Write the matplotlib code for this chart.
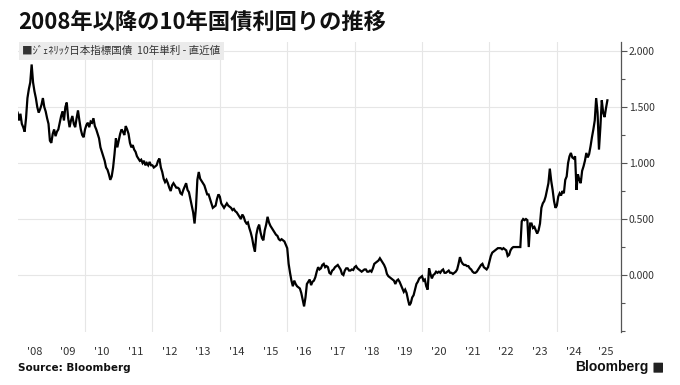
import matplotlib
matplotlib.use("Agg")
import matplotlib.pyplot as plt
from matplotlib.patches import FancyBboxPatch
import numpy as np

plt.rcParams['font.family'] = ['Noto Sans CJK JP', 'DejaVu Sans']

# semi-monthly readings of the 10y JGB yield (%), two points per month
y2008 = [1.45, 1.38, 1.44, 1.35, 1.32, 1.28, 1.40, 1.58, 1.66, 1.72, 1.88, 1.72,
         1.64, 1.58, 1.50, 1.45, 1.48, 1.52, 1.58, 1.50, 1.46, 1.40, 1.35, 1.20]
y2009 = [1.18, 1.26, 1.30, 1.24, 1.28, 1.30, 1.36, 1.42, 1.46, 1.38, 1.50, 1.54,
         1.40, 1.32, 1.38, 1.42, 1.35, 1.32, 1.40, 1.47, 1.38, 1.30, 1.25, 1.23]
y2010 = [1.30, 1.34, 1.36, 1.32, 1.37, 1.36, 1.40, 1.33, 1.30, 1.26, 1.22, 1.14,
         1.10, 1.06, 1.02, 0.96, 0.94, 0.90, 0.85, 0.88, 0.96, 1.08, 1.22, 1.14]
y2011 = [1.20, 1.26, 1.30, 1.28, 1.25, 1.33, 1.30, 1.26, 1.18, 1.14, 1.16, 1.12,
         1.10, 1.06, 1.04, 1.02, 1.03, 1.00, 1.02, 0.98, 1.00, 0.98, 1.01, 0.98]
y2012 = [0.98, 0.96, 0.97, 0.98, 1.02, 1.04, 0.96, 0.92, 0.86, 0.83, 0.85, 0.82,
         0.78, 0.75, 0.80, 0.82, 0.80, 0.78, 0.78, 0.77, 0.73, 0.72, 0.76, 0.79]
y2013 = [0.82, 0.76, 0.74, 0.68, 0.62, 0.56, 0.46, 0.60, 0.85, 0.92, 0.86, 0.84,
         0.82, 0.80, 0.76, 0.72, 0.72, 0.68, 0.64, 0.60, 0.61, 0.62, 0.68, 0.72]
y2014 = [0.70, 0.64, 0.62, 0.60, 0.62, 0.64, 0.62, 0.61, 0.60, 0.58, 0.59, 0.57,
         0.56, 0.54, 0.52, 0.50, 0.54, 0.52, 0.48, 0.46, 0.47, 0.42, 0.38, 0.33]
y2015 = [0.26, 0.21, 0.36, 0.42, 0.45, 0.38, 0.33, 0.31, 0.40, 0.45, 0.52, 0.47,
         0.44, 0.42, 0.40, 0.38, 0.36, 0.35, 0.32, 0.31, 0.32, 0.31, 0.30, 0.27]
y2016 = [0.24, 0.10, 0.02, -0.05, -0.10, -0.05, -0.08, -0.10, -0.11, -0.12, -0.16, -0.22,
         -0.28, -0.20, -0.08, -0.06, -0.04, -0.09, -0.06, -0.05, -0.02, 0.03, 0.07, 0.05]
y2017 = [0.06, 0.09, 0.10, 0.07, 0.08, 0.07, 0.02, 0.01, 0.04, 0.05, 0.07, 0.08,
         0.09, 0.07, 0.05, 0.01, 0.00, 0.04, 0.06, 0.06, 0.04, 0.04, 0.05, 0.045]
y2018 = [0.07, 0.08, 0.06, 0.05, 0.04, 0.03, 0.04, 0.05, 0.05, 0.03, 0.03, 0.04,
         0.03, 0.06, 0.10, 0.11, 0.12, 0.13, 0.15, 0.13, 0.11, 0.09, 0.06, 0.01]
y2019 = [-0.01, -0.02, -0.03, -0.04, -0.05, -0.08, -0.05, -0.04, -0.06, -0.09, -0.12, -0.15,
         -0.13, -0.16, -0.22, -0.27, -0.25, -0.20, -0.18, -0.13, -0.08, -0.06, -0.03, -0.02]
y2020 = [-0.01, -0.05, -0.04, -0.10, -0.13, 0.06, 0.01, -0.03, 0.00, 0.01, 0.03, 0.02,
         0.03, 0.02, 0.04, 0.05, 0.02, 0.02, 0.03, 0.04, 0.02, 0.02, 0.01, 0.02]
y2021 = [0.03, 0.05, 0.10, 0.16, 0.12, 0.10, 0.09, 0.09, 0.08, 0.08, 0.06, 0.05,
         0.03, 0.02, 0.02, 0.03, 0.05, 0.07, 0.09, 0.10, 0.07, 0.06, 0.05, 0.07]
y2022 = [0.12, 0.17, 0.20, 0.21, 0.22, 0.23, 0.24, 0.24, 0.24, 0.23, 0.24, 0.23,
         0.22, 0.17, 0.18, 0.22, 0.24, 0.25, 0.25, 0.25, 0.25, 0.25, 0.25, 0.48]
y2023 = [0.50, 0.49, 0.50, 0.49, 0.25, 0.46, 0.46, 0.42, 0.43, 0.40, 0.37, 0.40,
         0.46, 0.60, 0.64, 0.66, 0.70, 0.76, 0.82, 0.95, 0.84, 0.76, 0.66, 0.60]
y2024 = [0.62, 0.70, 0.73, 0.71, 0.75, 0.73, 0.85, 0.88, 1.00, 1.06, 1.09, 1.05,
         1.04, 1.06, 0.76, 0.90, 0.85, 0.82, 0.93, 0.97, 1.02, 1.09, 1.05, 1.08]
y2025 = [1.15, 1.23, 1.30, 1.38, 1.58, 1.45, 1.12, 1.32, 1.56, 1.45, 1.41, 1.49, 1.56]

years = list(range(2008, 2026))
series = [y2008, y2009, y2010, y2011, y2012, y2013, y2014, y2015, y2016,
          y2017, y2018, y2019, y2020, y2021, y2022, y2023, y2024, y2025]

year_labels = ["'08", "'09", "'10", "'11", "'12", "'13", "'14", "'15", "'16",
               "'17", "'18", "'19", "'20", "'21", "'22", "'23", "'24", "'25"]

t = []
v = []
for yr, vals in zip(years, series):
    for k, val in enumerate(vals):
        t.append(yr + k / 24)
        v.append(val)

x_end = 2025.905

fig = plt.figure(figsize=(6.8, 3.85), dpi=100)
ax = fig.add_axes([0.0259, 0.1384, 0.8874, 0.7532])

ax.plot(t, v, color='black', lw=1.6, solid_joinstyle='miter')

ax.set_xlim(2008.0, x_end)
ax.set_ylim(-0.506, 2.083)

# y axis on the right
ax.yaxis.tick_right()
ax.set_yticks([0.0, 0.5, 1.0, 1.5, 2.0])
ax.set_yticklabels(['%.3f' % y for y in [0.0, 0.5, 1.0, 1.5, 2.0]])
ax.set_yticks(np.arange(-0.5, 2.01, 0.25), minor=True)
ax.tick_params(axis='y', which='major', direction='out', length=4, width=0.8,
               color='#555555', labelsize=7.5, labelcolor='#333333', pad=1.5)
ax.tick_params(axis='y', which='minor', direction='out', length=3, width=0.8,
               color='#555555')

# x axis: grid every two years, labels centred in each year
ax.set_xticks(list(range(2010, 2025, 2)))
ax.set_xticklabels([])
label_pos = [yr + 0.5 for yr in years[:-1]] + [(2025 + x_end) / 2]
ax.set_xticks(label_pos, minor=True)
ax.set_xticklabels(year_labels, minor=True)
ax.tick_params(axis='x', which='both', length=0, labelsize=8,
               labelcolor='#333333', pad=11)

ax.grid(axis='x', which='major', color='#e6e6e6', lw=0.8)
ax.grid(axis='y', which='major', color='#e6e6e6', lw=0.8)
ax.set_axisbelow(True)

for s in ['top', 'left', 'bottom']:
    ax.spines[s].set_visible(False)
ax.spines['right'].set_color('#555555')
ax.spines['right'].set_linewidth(0.9)

ax.text(0.008, 0.985, '■ｼﾞｪﾈﾘｯｸ日本指標国債  10年単利 - 直近値',
        transform=ax.transAxes, fontsize=7.6, color='#333333', va='top', ha='left',
        bbox=dict(boxstyle='square,pad=0.35', facecolor='#ebebeb', edgecolor='none'))

fig.text(0.026, 0.943, '2008年以降の10年国債利回りの推移', fontsize=16,
         fontweight='bold', va='center', ha='left', color='#111111')
fig.text(0.026, 0.044, 'Source: Bloomberg', fontsize=7.5, fontweight='bold',
         va='center', ha='left', color='#111111', family='DejaVu Sans')
fig.text(0.953, 0.046, 'Bloomberg', fontsize=10, fontweight='bold',
         va='center', ha='right', color='#111111', family='Liberation Sans')
fig.patches.append(FancyBboxPatch((0.962, 0.033), 0.012, 0.024,
                                  boxstyle='round,pad=0.001', transform=fig.transFigure,
                                  facecolor='#222222', edgecolor='none'))

fig.savefig('out.png', dpi=100)
